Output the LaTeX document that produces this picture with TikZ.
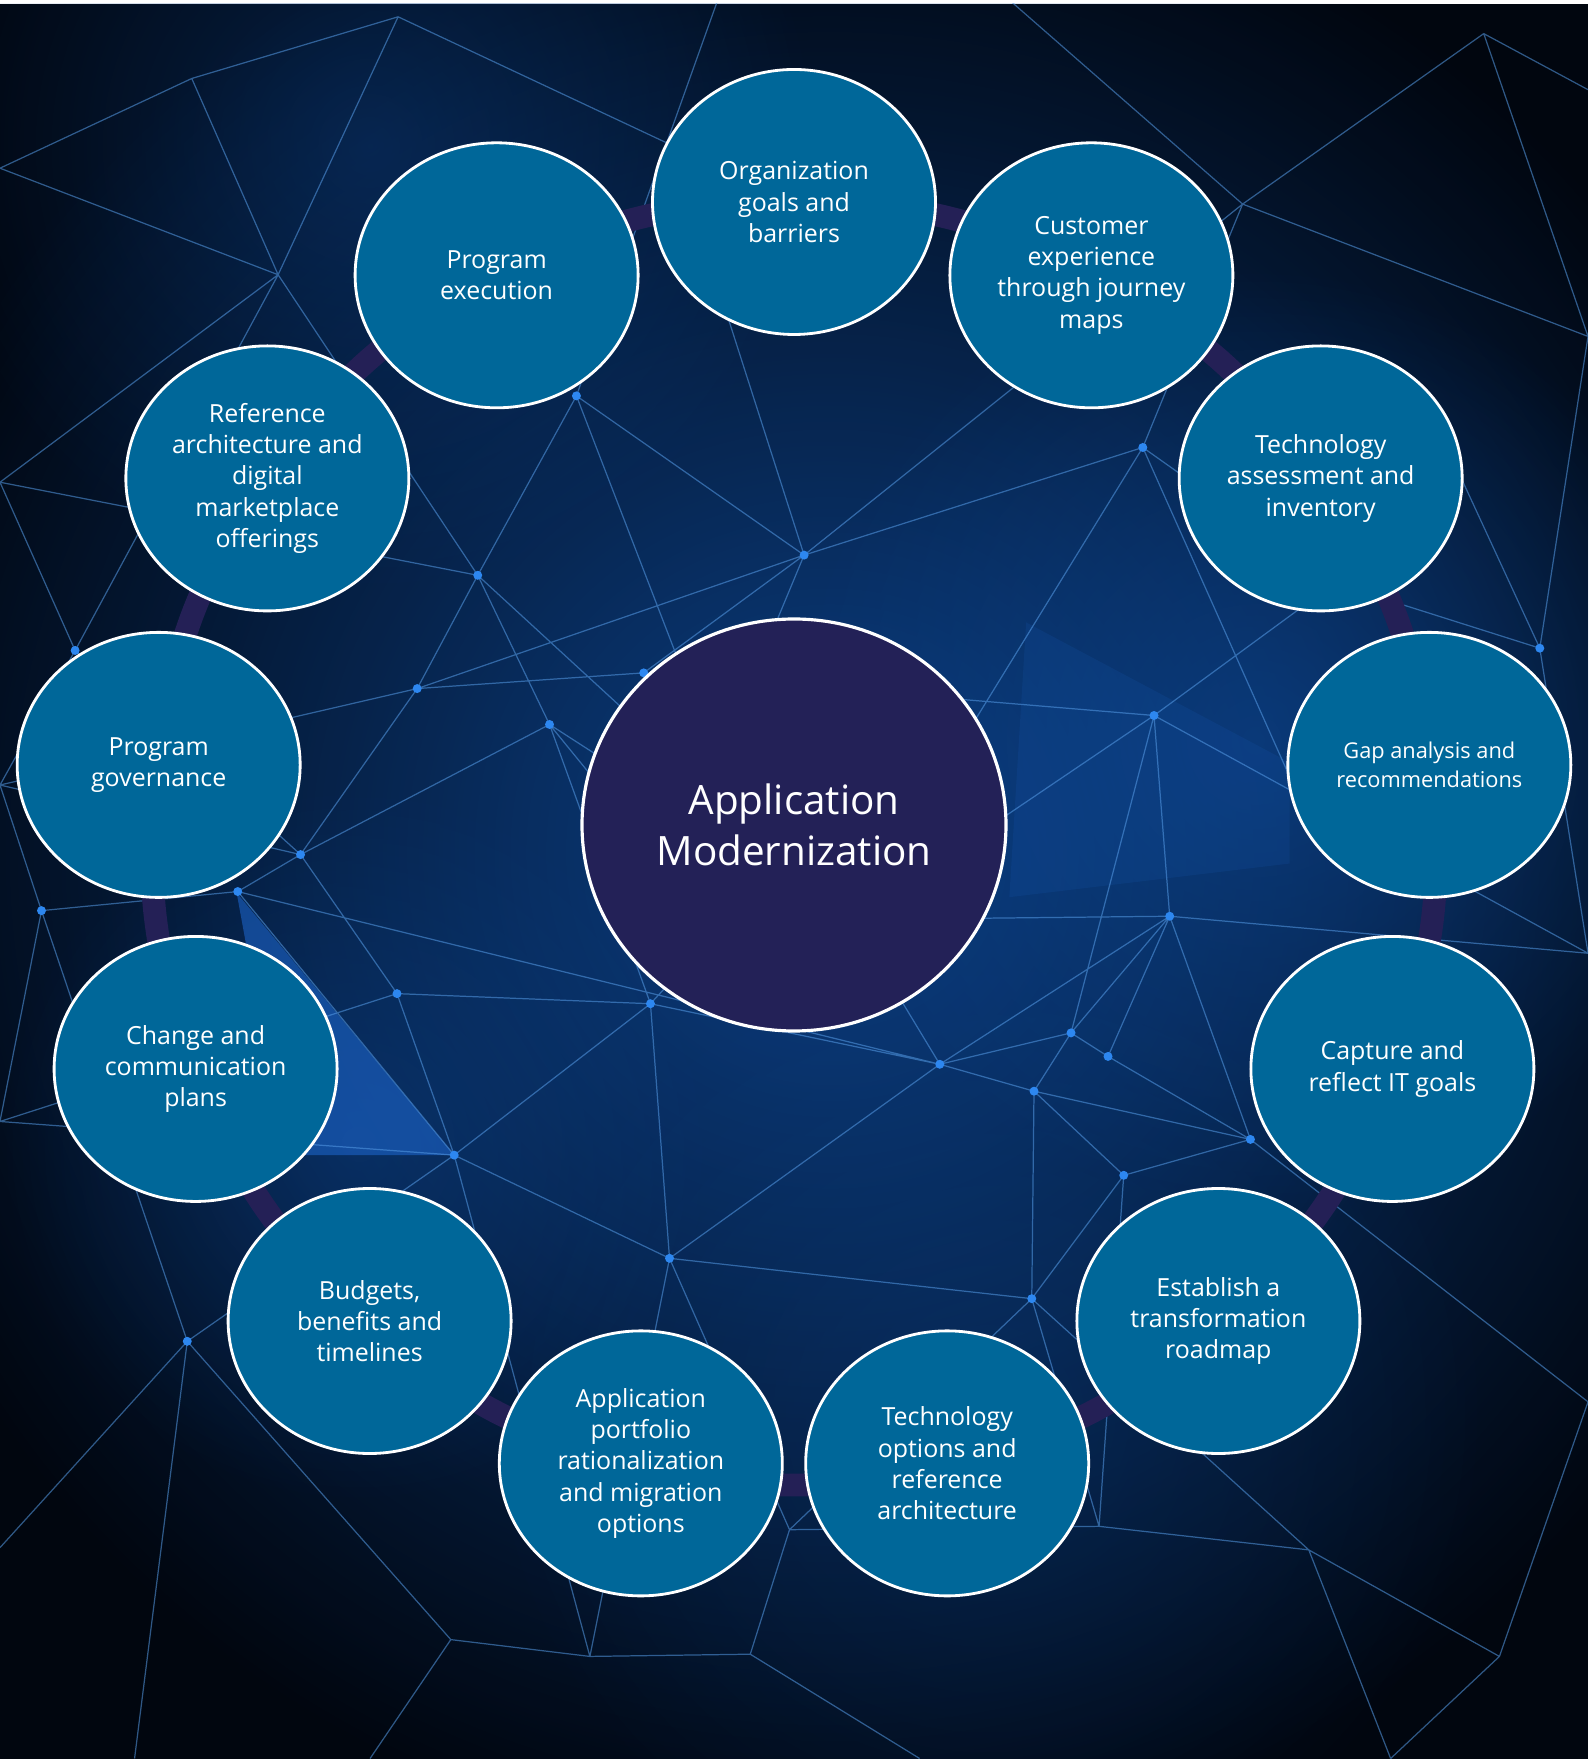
\documentclass[tikz,border=0pt]{standalone}
\usepackage{fontspec}
\setmainfont{Open Sans}
\usetikzlibrary{shapes.geometric, backgrounds, fadings}

\definecolor{topicblue}{RGB}{0,103,153}
\definecolor{hubnavy}{RGB}{35,33,87}
\definecolor{ringnavy}{RGB}{36,32,86}
\definecolor{bgdark}{RGB}{1,6,15}
\definecolor{glowblue}{RGB}{12,66,138}
\definecolor{facetblue}{RGB}{30,105,210}
\definecolor{netblue}{RGB}{85,155,230}
\definecolor{dotblue}{RGB}{45,135,240}

\tikzfading[name=glowfade, inner color=transparent!0, outer color=transparent!100]

\tikzset{
every node/.style={text=white}, % white labels everywhere
topic/.style={ellipse, draw=white, line width=0.8pt, fill=topicblue, minimum width=2.83cm, minimum height=2.65cm, inner sep=0pt, align=center, font=\fontsize{7.1}{8.9}\selectfont}, % the thirteen outer bubbles
hub/.style={ellipse, draw=white, line width=0.9pt, fill=hubnavy, minimum width=4.24cm, minimum height=4.12cm, inner sep=0pt, align=center, font=\fontsize{11.5}{14.6}\selectfont}, % the centre bubble
ring/.style={draw=ringnavy, line width=6.5pt}, % band that joins the bubbles
netline/.style={draw=netblue, line width=0.35pt, opacity=0.55}, % background web
netdot/.style={fill=dotblue}, % knots of the web
glow/.style={fill=glowblue, path fading=glowfade}, % soft light
}

\begin{document}
\begin{tikzpicture}
      \useasboundingbox (-7.94,8.42) rectangle (7.94,-9.17);

      \node[hub] (hub) at (0,0.17) {Application\\Modernization};

      \node[topic] (goals) at (90:6.4) {Organization\\goals and\\barriers};
      \node[topic] (journey) at (62.31:6.4) {Customer\\experience\\through journey\\maps};
      \node[topic] (assess) at (34.62:6.4) {Technology\\assessment and\\inventory};
      \node[topic, font=\fontsize{6.2}{8.2}\selectfont] (gaps) at (6.92:6.4) {Gap analysis and\\recommendations};
      \node[topic] (itgoals) at (-20.77:6.4) {Capture and\\reflect IT goals};
      \node[topic] (roadmap) at (-48.46:6.4) {Establish a\\transformation\\roadmap};
      \node[topic] (techopts) at (-76.15:6.4) {Technology\\options and\\reference\\architecture};
      \node[topic] (portfolio) at (-103.85:6.4) {Application\\portfolio\\rationalization\\and migration\\options};
      \node[topic] (budgets) at (-131.54:6.4) {Budgets,\\benefits and\\timelines};
      \node[topic] (change) at (-159.23:6.4) {Change and\\communication\\plans};
      \node[topic] (governance) at (173.08:6.4) {Program\\governance};
      \node[topic] (refarch) at (145.38:6.4) {Reference\\architecture and\\digital\\marketplace\\offerings};
      \node[topic] (execution) at (117.69:6.4) {Program\\execution};

      \begin{scope}[on background layer]
        \fill[white] (-7.94,8.42) rectangle (7.94,-9.17);
        \fill[bgdark] (-7.94,8.38) rectangle (7.94,-9.17);
        \clip (-7.94,8.38) rectangle (7.94,-9.17);
        % web, in pixels of the 1416 wide view
        \begin{scope}[shift={(-7.94,8.42)}, x=0.011215cm, y=-0.011215cm]
          \fill[glow, opacity=0.95] (740,760) circle (900);
          \fill[glow, opacity=0.45] (330,130) circle (400);
          \fill[glow, opacity=0.7] (1120,660) circle (420);
          \fill[glow, opacity=0.45] (320,1020) circle (320);
          \fill[glow, opacity=0.3] (880,1260) circle (450);
          \fill[facetblue, opacity=0.55] (211,796) -- (405,1030) -- (265,1030) -- (230,900) -- cycle;
          \fill[facetblue, opacity=0.12] (915,555) -- (1150,680) -- (1150,770) -- (900,800) -- cycle;

          \coordinate (n1) at (355,15);
          \coordinate (n2) at (248,245);
          \coordinate (n3) at (514,353);
          \coordinate (n4) at (717,495);
          \coordinate (n5) at (426,513);
          \coordinate (n6) at (372,614);
          \coordinate (n7) at (490,646);
          \coordinate (n8) at (574,600);
          \coordinate (n9) at (268,762);
          \coordinate (n10) at (212,795);
          \coordinate (n11) at (354,886);
          \coordinate (n12) at (580,895);
          \coordinate (n13) at (405,1030);
          \coordinate (n14) at (597,1122);
          \coordinate (n15) at (838,949);
          \coordinate (n16) at (922,973);
          \coordinate (n17) at (955,921);
          \coordinate (n18) at (988,942);
          \coordinate (n19) at (1043,817);
          \coordinate (n20) at (1115,1016);
          \coordinate (n21) at (1002,1048);
          \coordinate (n22) at (920,1158);
          \coordinate (n23) at (1019,399);
          \coordinate (n24) at (1029,638);
          \coordinate (n25) at (1108,182);
          \coordinate (n26) at (1373,578);
          \coordinate (n27) at (67,580);
          \coordinate (n28) at (37,812);
          \coordinate (n29) at (167,1196);
          \coordinate (n30) at (402,1462);
          \coordinate (n31) at (526,1477);
          \coordinate (n32) at (669,1475);
          \coordinate (n33) at (704,1364);
          \coordinate (n34) at (980,1361);
          \coordinate (n35) at (1167,1382);
          \coordinate (n36) at (1337,1477);
          \coordinate (n37) at (1323,30);
          \coordinate (m1) at (171,70);
          \coordinate (m2) at (0,150);
          \coordinate (m3) at (0,430);
          \coordinate (m4) at (0,700);
          \coordinate (m5) at (0,1000);
          \coordinate (m6) at (0,1380);
          \coordinate (m7) at (1416,300);
          \coordinate (m8) at (1416,850);
          \coordinate (m9) at (1416,1250);
          \coordinate (m10) at (120,1568);
          \coordinate (m11) at (330,1568);
          \coordinate (m12) at (820,1568);
          \coordinate (m13) at (1240,1568);
          \coordinate (m14) at (640,0);
          \coordinate (m15) at (900,0);
          \coordinate (m16) at (1416,80);
          \coordinate (m17) at (600,130);
          \coordinate (m18) at (1180,760);
          \coordinate (m19) at (1190,520);
          \coordinate (m20) at (1300,420);
          \coordinate (h1) at (640,680);
          \coordinate (h2) at (760,820);
          \coordinate (h3) at (640,830);

          \draw[netline] (n1) -- (m1) (m1) -- (m2) (n1) -- (n2) (n1) -- (m17) (m1) -- (n2)
          (n2) -- (m3) (n2) -- (n5) (n2) -- (m2)
          (n3) -- (n4) (n3) -- (n5) (n3) -- (h1) (n3) -- (m14)
          (n4) -- (n23) (n4) -- (n6) (n4) -- (n8) (n4) -- (h1) (n4) -- (m17) (n4) -- (n25)
          (n5) -- (n6) (n5) -- (n7) (n5) -- (m3) (n5) -- (h2)
          (n6) -- (n8) (n6) -- (n9) (n6) -- (m4)
          (n7) -- (h3) (n7) -- (n9) (n7) -- (n12) (n7) -- (h2)
          (n8) -- (h1) (n8) -- (n24)
          (n9) -- (n10) (n9) -- (n11) (n9) -- (m4) (n9) -- (n27)
          (n10) -- (n13) (n10) -- (n28) (n10) -- (n15)
          (n11) -- (n12) (n11) -- (n13) (n11) -- (m5)
          (n12) -- (n13) (n12) -- (n14) (n12) -- (n15) (n12) -- (h3)
          (n13) -- (n14) (n13) -- (n29) (n13) -- (m5) (n13) -- (n31)
          (n14) -- (n15) (n14) -- (n22) (n14) -- (n31) (n14) -- (n33)
          (n15) -- (n16) (n15) -- (n19) (n15) -- (n17) (n15) -- (h2)
          (n16) -- (n21) (n16) -- (n22) (n16) -- (n20) (n16) -- (n17)
          (n17) -- (n18) (n17) -- (n24) (n17) -- (n19)
          (n18) -- (n20) (n18) -- (n19)
          (n19) -- (n24) (n19) -- (n20) (n19) -- (m8) (n19) -- (h2)
          (n20) -- (n21) (n20) -- (m9)
          (n21) -- (n22) (n21) -- (n34)
          (n22) -- (n33) (n22) -- (n34) (n22) -- (n35)
          (n23) -- (n25) (n23) -- (h2) (n23) -- (m18) (n23) -- (m19)
          (n24) -- (m19) (n24) -- (h2) (n24) -- (m8)
          (n25) -- (n37) (n25) -- (m15) (n25) -- (m7)
          (n26) -- (m20) (n26) -- (m19) (n26) -- (m8) (n26) -- (m7)
          (n27) -- (m3) (n27) -- (n2) (n27) -- (m4)
          (n28) -- (m4) (n28) -- (m5) (n28) -- (n29)
          (n29) -- (m6) (n29) -- (m10) (n29) -- (n30)
          (n30) -- (n31) (n30) -- (m11)
          (n31) -- (n32) (n32) -- (n33) (n32) -- (m12)
          (n33) -- (n34) (n34) -- (n35) (n35) -- (n36) (n35) -- (m13)
          (n36) -- (m9) (n36) -- (m13)
          (n37) -- (m16) (n37) -- (m7);

          \fill[netdot] (n3) circle (4) (n4) circle (4) (n5) circle (4) (n6) circle (4)
          (n7) circle (4) (n8) circle (4) (n9) circle (4) (n10) circle (4)
          (n11) circle (4) (n12) circle (4) (n13) circle (4) (n14) circle (4)
          (n15) circle (4) (n16) circle (4) (n17) circle (4) (n18) circle (4)
          (n19) circle (4) (n20) circle (4) (n21) circle (4) (n22) circle (4)
          (n23) circle (4) (n24) circle (4) (n26) circle (4) (n27) circle (4)
          (n28) circle (4) (n29) circle (4);
        \end{scope}

        \draw[ring] (goals.center) to[bend left=14] (journey.center)
        to[bend left=14] (assess.center) to[bend left=14] (gaps.center)
        to[bend left=14] (itgoals.center) to[bend left=14] (roadmap.center)
        to[bend left=14] (techopts.center) to[bend left=14] (portfolio.center)
        to[bend left=14] (budgets.center) to[bend left=14] (change.center)
        to[bend left=14] (governance.center) to[bend left=14] (refarch.center)
        to[bend left=14] (execution.center) to[bend left=14] (goals.center);
      \end{scope}
    \end{tikzpicture}
\end{document}
